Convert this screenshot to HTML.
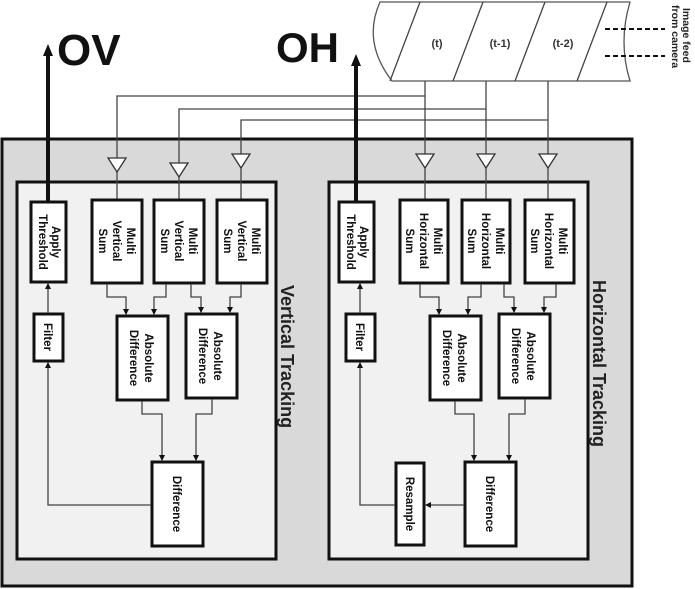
<!DOCTYPE html>
<html><head><meta charset="utf-8"><style>
html,body{margin:0;padding:0;background:#fff;}
svg{display:block;font-family:"Liberation Sans",sans-serif;}
.b{fill:#fff;stroke:#111;stroke-width:3;}
.t{font-size:11.5px;font-weight:bold;fill:#111;text-anchor:middle;}
.l{fill:none;stroke:#444;stroke-width:1.3;}
</style></head><body>
<svg width="695" height="589" viewBox="0 0 695 589" xmlns="http://www.w3.org/2000/svg">
<defs><marker id="a" markerWidth="6" markerHeight="6" refX="5" refY="3" orient="auto" markerUnits="userSpaceOnUse"><path d="M0,0 L6,3 L0,6z" fill="#111"/></marker></defs>
<rect x="2" y="139" width="630" height="447" fill="#d9d9d9" stroke="#111" stroke-width="3"/>
<rect x="17" y="182" width="259" height="377" fill="#f1f1f1" stroke="#111" stroke-width="3"/>
<rect x="329" y="182" width="259" height="377" fill="#f1f1f1" stroke="#111" stroke-width="3"/>
<text transform="translate(281,285) rotate(90)" font-size="18" font-weight="bold" fill="#222">Vertical Tracking</text>
<text transform="translate(593,280) rotate(90)" font-size="18" font-weight="bold" fill="#222">Horizontal Tracking</text>

<path d="M380,2 L630,2 Q618,42 630,81 L392,81 Q362,42 380,2z" fill="#fff" stroke="#555" stroke-width="1.3"/>
<g class="l"><line x1="420" y1="2" x2="390" y2="81"/><line x1="483" y1="2" x2="453" y2="81"/><line x1="545" y1="2" x2="515" y2="81"/><line x1="607" y1="2" x2="577" y2="81"/></g>
<text x="437" y="47" font-size="11" font-weight="bold" text-anchor="middle" fill="#333">(t)</text>
<text x="500" y="47" font-size="11" font-weight="bold" text-anchor="middle" fill="#333">(t-1)</text>
<text x="563" y="47" font-size="11" font-weight="bold" text-anchor="middle" fill="#333">(t-2)</text>
<line x1="605" y1="29" x2="665" y2="29" stroke="#111" stroke-width="2" stroke-dasharray="5,3"/>
<line x1="605" y1="56" x2="665" y2="56" stroke="#111" stroke-width="2" stroke-dasharray="5,3"/>
<text transform="translate(683,8) rotate(90)" font-size="10.5" font-weight="bold" fill="#222">Image feed</text>
<text transform="translate(672,5) rotate(90)" font-size="10.5" font-weight="bold" fill="#222">from camera</text>

<g class="l">
<path d="M425,81 V155"/><path d="M486,81 V155"/><path d="M548,81 V155"/>
<path d="M425,96 H117 V158"/><path d="M486,109 H179 V163"/><path d="M548,120 H241 V154"/>
<path d="M117,172 V199"/><path d="M179,177 V199"/><path d="M241,168 V199"/>
<path d="M425,168 V199"/><path d="M486,168 V199"/><path d="M548,168 V199"/>
</g>
<g fill="#fff" stroke="#333" stroke-width="1.3">
<path d="M108,158 H126 L117,172z"/><path d="M170,163 H188 L179,177z"/><path d="M232,154 H250 L241,168z"/>
<path d="M416,154 H434 L425,168z"/><path d="M477,154 H495 L486,168z"/><path d="M539,154 H557 L548,168z"/>
</g>

<line x1="48" y1="201" x2="48" y2="52" stroke="#111" stroke-width="4"/>
<path d="M43,56 L48,44 L53,56z" fill="#111"/>
<text x="57" y="65" font-size="44" font-weight="bold" fill="#111">OV</text>
<line x1="356" y1="201" x2="356" y2="62" stroke="#111" stroke-width="4"/>
<path d="M351,66 L356,54 L361,66z" fill="#111"/>
<text x="276" y="62" font-size="42" font-weight="bold" fill="#111">OH</text>

<!-- LEFT -->
<rect class="b" x="31" y="202" width="35" height="80"/>
<text class="t" transform="translate(52,242) rotate(90)">Apply</text>
<text class="t" transform="translate(39,242) rotate(90)">Threshold</text>
<rect class="b" x="92" y="200" width="50" height="83"/>
<rect class="b" x="154" y="200" width="50" height="83"/>
<rect class="b" x="217" y="200" width="50" height="83"/>
<text class="t" transform="translate(127,241) rotate(90)">Multi</text>
<text class="t" transform="translate(113,241) rotate(90)">Vertical</text>
<text class="t" transform="translate(99,241) rotate(90)">Sum</text>
<text class="t" transform="translate(189,241) rotate(90)">Multi</text>
<text class="t" transform="translate(175,241) rotate(90)">Vertical</text>
<text class="t" transform="translate(161,241) rotate(90)">Sum</text>
<text class="t" transform="translate(252,241) rotate(90)">Multi</text>
<text class="t" transform="translate(238,241) rotate(90)">Vertical</text>
<text class="t" transform="translate(224,241) rotate(90)">Sum</text>
<rect class="b" x="34" y="314" width="29" height="47"/>
<text class="t" transform="translate(44,337) rotate(90)">Filter</text>
<rect class="b" x="117" y="316" width="51" height="84"/>
<text class="t" transform="translate(145,358) rotate(90)">Absolute</text>
<text class="t" transform="translate(130,358) rotate(90)">Difference</text>
<rect class="b" x="186" y="314" width="51" height="84"/>
<text class="t" transform="translate(214,356) rotate(90)">Absolute</text>
<text class="t" transform="translate(199,356) rotate(90)">Difference</text>
<rect class="b" x="152" y="462" width="51" height="84"/>
<text class="t" transform="translate(173,504) rotate(90)">Difference</text>
<g class="l">
<path d="M107,284 V297 H126 V314" marker-end="url(#a)"/>
<path d="M166,284 V297 H154 V314" marker-end="url(#a)"/>
<path d="M191,284 V297 H201 V312" marker-end="url(#a)"/>
<path d="M241,284 V297 H230 V312" marker-end="url(#a)"/>
<path d="M142,401 V414 H162 V460" marker-end="url(#a)"/>
<path d="M212,399 V414 H196 V460" marker-end="url(#a)"/>
<path d="M151,505 H48 V363" marker-end="url(#a)"/>
<path d="M48,313 V284" marker-end="url(#a)"/>
</g>

<!-- RIGHT -->
<rect class="b" x="339" y="202" width="35" height="80"/>
<text class="t" transform="translate(360,242) rotate(90)">Apply</text>
<text class="t" transform="translate(347,242) rotate(90)">Threshold</text>
<rect class="b" x="400" y="200" width="48" height="83"/>
<rect class="b" x="462" y="200" width="48" height="83"/>
<rect class="b" x="525" y="200" width="49" height="83"/>
<text class="t" transform="translate(434,241) rotate(90)">Multi</text>
<text class="t" transform="translate(420,241) rotate(90)">Horizontal</text>
<text class="t" transform="translate(406,241) rotate(90)">Sum</text>
<text class="t" transform="translate(496,241) rotate(90)">Multi</text>
<text class="t" transform="translate(482,241) rotate(90)">Horizontal</text>
<text class="t" transform="translate(468,241) rotate(90)">Sum</text>
<text class="t" transform="translate(559,241) rotate(90)">Multi</text>
<text class="t" transform="translate(545,241) rotate(90)">Horizontal</text>
<text class="t" transform="translate(531,241) rotate(90)">Sum</text>
<rect class="b" x="346" y="314" width="29" height="47"/>
<text class="t" transform="translate(356,337) rotate(90)">Filter</text>
<rect class="b" x="430" y="316" width="51" height="84"/>
<text class="t" transform="translate(458,358) rotate(90)">Absolute</text>
<text class="t" transform="translate(443,358) rotate(90)">Difference</text>
<rect class="b" x="499" y="314" width="51" height="84"/>
<text class="t" transform="translate(527,356) rotate(90)">Absolute</text>
<text class="t" transform="translate(512,356) rotate(90)">Difference</text>
<rect class="b" x="465" y="462" width="51" height="84"/>
<text class="t" transform="translate(486,504) rotate(90)">Difference</text>
<rect class="b" x="396" y="463" width="28" height="82"/>
<text class="t" transform="translate(406,504) rotate(90)">Resample</text>
<g class="l">
<path d="M420,284 V297 H439 V314" marker-end="url(#a)"/>
<path d="M481,284 V297 H468 V314" marker-end="url(#a)"/>
<path d="M504,284 V297 H514 V312" marker-end="url(#a)"/>
<path d="M556,284 V297 H544 V312" marker-end="url(#a)"/>
<path d="M455,401 V414 H474 V460" marker-end="url(#a)"/>
<path d="M525,399 V414 H509 V460" marker-end="url(#a)"/>
<path d="M464,505 H426" marker-end="url(#a)"/>
<path d="M395,505 H360 V363" marker-end="url(#a)"/>
<path d="M360,313 V284" marker-end="url(#a)"/>
</g>
</svg>
</body></html>
